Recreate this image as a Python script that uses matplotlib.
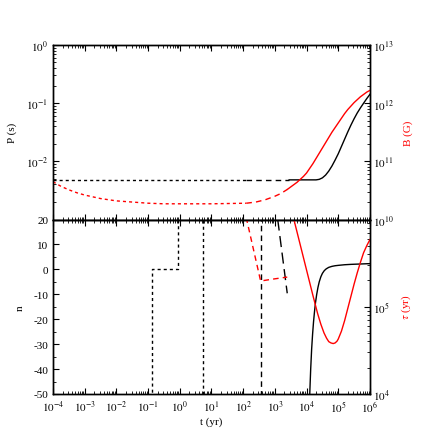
import numpy as np
import matplotlib
matplotlib.use("Agg")
import matplotlib.pyplot as plt
from matplotlib.ticker import LogLocator, MultipleLocator, FixedLocator, FixedFormatter

plt.rcParams['font.family'] = ['Liberation Serif', 'DejaVu Serif']
plt.rcParams['mathtext.fontset'] = 'stix'
plt.rcParams['axes.unicode_minus'] = False

# --- data (log10 of time in yr) ---
# spin period P (s), three phases
p_dot_lt = [-4.0, -2.0, 0.0, 2.1]
p_dot = [4.8e-3, 4.8e-3, 4.8e-3, 4.8e-3]
p_dash_lt = [2.1, 2.8, 3.45]
p_dash = [4.8e-3, 4.8e-3, 4.8e-3]
p_sol_lt = [3.45, 4.0, 4.3, 4.4, 4.5, 4.6, 4.7, 4.8, 4.9, 5.0, 5.1, 5.2, 5.3, 5.4,
            5.5, 5.6, 5.7, 5.8, 5.9, 6.0]
p_sol = [4.8e-3, 4.8e-3, 4.8e-3, 4.9e-3, 5.2e-3, 5.8e-3, 6.8e-3, 8.3e-3, 1.05e-2, 1.35e-2,
         1.8e-2, 2.4e-2, 3.2e-2, 4.2e-2, 5.4e-2, 6.8e-2, 8.3e-2, 1.0e-1, 1.2e-1, 1.42e-1]

# magnetic field B (log10 G)
b_dot_lt = [-4.0, -3.75, -3.5, -3.25, -3.0, -2.5, -2.0, -1.5, -1.0, -0.5, 0.0, 1.0, 2.1]
b_dot = [10.65, 10.57, 10.51, 10.46, 10.42, 10.36, 10.32, 10.30, 10.28, 10.27, 10.27, 10.27, 10.28]
b_dash_lt = [2.1, 2.4, 2.7, 3.0, 3.2, 3.4]
b_dash = [10.28, 10.30, 10.34, 10.40, 10.45, 10.52]
b_sol_lt = [3.4, 3.5, 3.6, 3.7, 3.8, 3.9, 4.0, 4.1, 4.2, 4.3, 4.4, 4.5, 4.6, 4.7, 4.8,
            4.9, 5.0, 5.1, 5.2, 5.3, 5.4, 5.5, 5.6, 5.7, 5.8, 5.9, 6.0]
b_sol = [10.52, 10.56, 10.60, 10.64, 10.69, 10.74, 10.80, 10.88, 10.96, 11.05, 11.14, 11.23,
         11.32, 11.41, 11.50, 11.58, 11.66, 11.74, 11.82, 11.89, 11.95, 12.01, 12.06, 12.11,
         12.15, 12.19, 12.22]

# braking index n
n_dot_lt = [-0.886, -0.886, -0.047, -0.047, 0.72, 0.72]
n_dot = [-100, 0, 0, 100, 100, -100]
n_dash_lt = [2.55, 2.55]
n_dash = [-100, 100]
n_ldash_lt = [3.09, 3.39]
n_ldash = [20, -9.6]
n_sol_lt = [4.08, 4.10, 4.13, 4.16, 4.19, 4.22, 4.25, 4.28, 4.32, 4.36, 4.40, 4.45, 4.50,
            4.56, 4.62, 4.70, 4.80, 4.90, 5.0, 5.2, 5.4, 5.7, 6.0]
n_sol = [-60, -50, -40, -32, -26, -21, -17, -13.5, -10, -7.2, -5.0, -3.0, -1.6,
         -0.5, 0.2, 0.8, 1.2, 1.45, 1.6, 1.85, 2.0, 2.15, 2.3]

# characteristic age tau (log10 yr)
tau_dash_lt = [1.9, 2.11, 2.55, 3.0, 3.39]
tau_dash = [6.35, 6.0, 5.295, 5.32, 5.34]
tau_sol_lt = [3.5, 3.6, 3.8, 4.0, 4.2, 4.35, 4.45, 4.55, 4.63, 4.70, 4.77, 4.84, 4.90,
              4.96, 5.0, 5.1, 5.2, 5.3, 5.4, 5.5, 5.6, 5.7, 5.8, 5.9, 6.0]
tau_sol = [6.15, 6.0, 5.71, 5.42, 5.13, 4.92, 4.80, 4.70, 4.64, 4.60, 4.585, 4.578, 4.585,
           4.605, 4.63, 4.72, 4.84, 4.98, 5.12, 5.26, 5.39, 5.51, 5.62, 5.70, 5.77]

x_ticks = [1e-4, 1e-3, 1e-2, 1e-1, 1e0, 1e1, 1e2, 1e3, 1e4, 1e5, 1e6]
x_labels = [r'$10^{-4}$', r'$10^{-3}$', r'$10^{-2}$', r'$10^{-1}$', r'$10^{0}$', r'$10^{1}$',
            r'$10^{2}$', r'$10^{3}$', r'$10^{4}$', r'$10^{5}$', r'$10^{6}$']


def tt(lt):
    return 10.0 ** np.array(lt)


DOT = (0, (2.2, 2.2))
DASH = (0, (4, 3))
LDASH = (0, (8, 4))
RED = '#ff0000'
FS = 8

fig = plt.figure(figsize=(4.42, 4.35), dpi=100)
L, W = 0.12, 0.717
ax1 = fig.add_axes([L, 0.4931, W, 0.4012])
ax2 = fig.add_axes([L, 0.092, W, 0.4011])
ax1r = ax1.twinx()
ax2r = ax2.twinx()

# top panel
ax1.plot(tt(p_dot_lt), p_dot, color='black', lw=1.0, ls=DOT)
ax1.plot(tt(p_dash_lt), p_dash, color='black', lw=1.0, ls=DASH)
ax1.plot(tt(p_sol_lt), p_sol, color='black', lw=1.0)
ax1r.plot(tt(b_dot_lt), 10.0 ** np.array(b_dot), color=RED, lw=1.0, ls=DOT)
ax1r.plot(tt(b_dash_lt), 10.0 ** np.array(b_dash), color=RED, lw=1.0, ls=DASH)
ax1r.plot(tt(b_sol_lt), 10.0 ** np.array(b_sol), color=RED, lw=1.0)

# bottom panel
ax2.plot(tt(n_dot_lt), n_dot, color='black', lw=1.0, ls=DOT)
ax2.plot(tt(n_dash_lt), n_dash, color='black', lw=1.0, ls=DASH)
ax2.plot(tt(n_ldash_lt), n_ldash, color='black', lw=1.0, ls=LDASH)
ax2.plot(tt(n_sol_lt), n_sol, color='black', lw=1.0)
ax2r.plot(tt(tau_dash_lt), 10.0 ** np.array(tau_dash), color=RED, lw=1.0, ls=DASH)
ax2r.plot(tt(tau_sol_lt), 10.0 ** np.array(tau_sol), color=RED, lw=1.0)

for a in (ax1, ax2, ax1r, ax2r):
    a.set_xscale('log')
    a.set_xlim(1e-4, 1e6)
    a.xaxis.set_major_locator(FixedLocator(x_ticks))
    a.xaxis.set_minor_locator(LogLocator(base=10, subs=np.arange(2, 10), numticks=20))
    for s in a.spines.values():
        s.set_linewidth(1.0)

for a in (ax1, ax2):
    a.tick_params(which='both', direction='in', top=True, bottom=True, right=False, labelsize=FS)
    a.tick_params(which='major', length=4.5, width=0.8)
    a.tick_params(which='minor', length=2.5, width=0.6)
for a in (ax1r, ax2r):
    a.tick_params(which='both', direction='in', labelsize=FS, pad=2)
    a.tick_params(which='major', length=4.5, width=0.8)
    a.tick_params(which='minor', length=2.5, width=0.6)

ax1.set_yscale('log')
ax1.set_ylim(1e-3, 1e0)
ax1.yaxis.set_major_locator(FixedLocator([1e-2, 1e-1, 1e0]))
ax1.yaxis.set_major_formatter(FixedFormatter([r'$10^{-2}$', r'$10^{-1}$', r'$10^{0}$']))
ax1.yaxis.set_minor_locator(LogLocator(base=10, subs=np.arange(2, 10), numticks=20))
ax1.tick_params(axis='x', labelbottom=False)
ax1.set_ylabel('P (s)', fontsize=FS, labelpad=6)

ax1r.set_yscale('log')
ax1r.set_ylim(1e10, 1e13)
ax1r.yaxis.set_major_locator(FixedLocator([1e10, 1e11, 1e12, 1e13]))
ax1r.yaxis.set_major_formatter(FixedFormatter([r'$10^{10}$', r'$10^{11}$', r'$10^{12}$', r'$10^{13}$']))
ax1r.yaxis.set_minor_locator(LogLocator(base=10, subs=np.arange(2, 10), numticks=20))
ax1r.tick_params(axis='x', labelbottom=False)
ax1r.set_ylabel('B (G)', fontsize=FS, color=RED, labelpad=7)

ax2.set_ylim(-50, 20)
ax2.yaxis.set_major_locator(MultipleLocator(10))
ax2.yaxis.set_minor_locator(MultipleLocator(5))
ax2.xaxis.set_major_formatter(FixedFormatter(x_labels))
ax2.set_ylabel('n', fontsize=FS, labelpad=6)
ax2.set_xlabel('t (yr)', fontsize=FS, labelpad=2)

ax2r.set_yscale('log')
ax2r.set_ylim(1e4, 1e6)
ax2r.yaxis.set_major_locator(FixedLocator([1e4, 1e5]))
ax2r.yaxis.set_major_formatter(FixedFormatter([r'$10^{4}$', r'$10^{5}$']))
ax2r.yaxis.set_minor_locator(LogLocator(base=10, subs=np.arange(2, 10), numticks=20))
ax2r.set_ylabel(r'$\tau$ (yr)', fontsize=FS, color=RED, labelpad=7)

fig.savefig('out.png', dpi=100)
